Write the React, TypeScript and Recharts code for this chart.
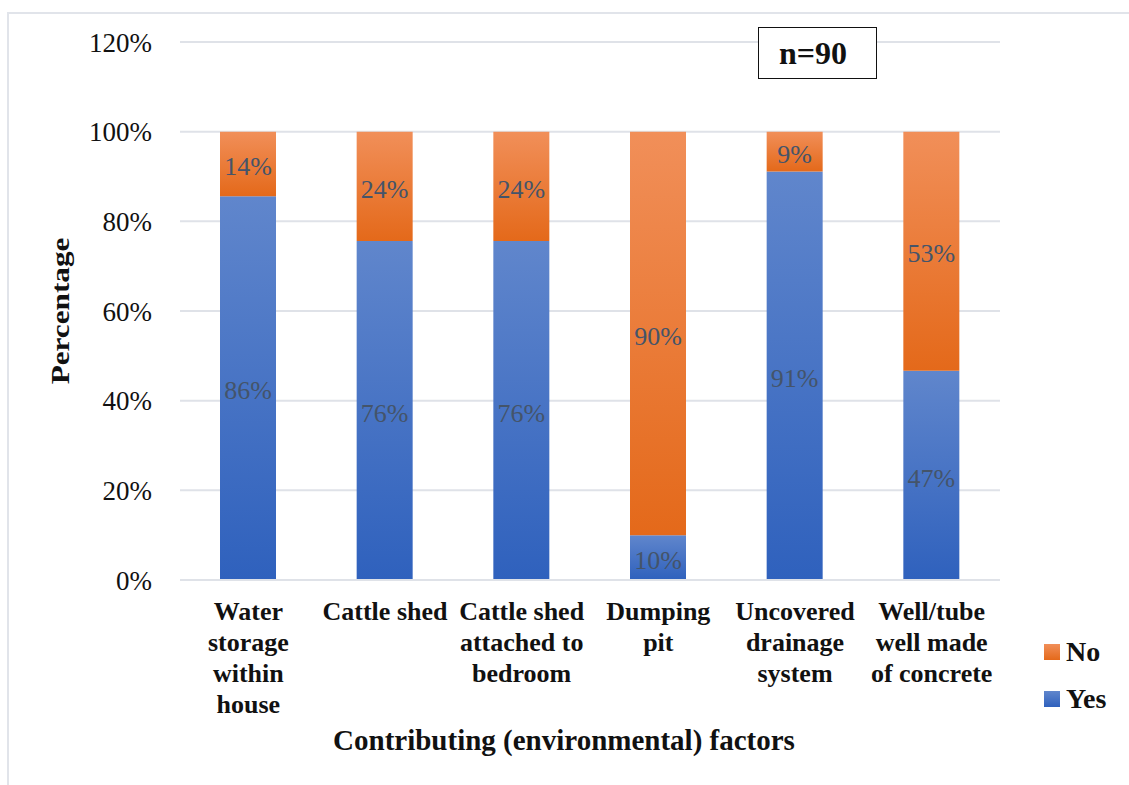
import { BarChart, Bar, XAxis, YAxis, CartesianGrid, LabelList } from 'recharts'

const categories = [
  'Water\nstorage\nwithin\nhouse',
  'Cattle shed',
  'Cattle shed\nattached to\nbedroom',
  'Dumping\npit',
  'Uncovered\ndrainage\nsystem',
  'Well/tube\nwell made\nof concrete',
]
// percentages of n=90 (bar heights), labels shown rounded
const yesValues = [85.6, 75.6, 75.6, 10, 91.1, 46.7]
const noValues = [14.4, 24.4, 24.4, 90, 8.9, 53.3]
const yTicks = [0, 20, 40, 60, 80, 100, 120]

const FONT = '"Liberation Serif", "Times New Roman", serif'

const chartData = categories.map((c, i) => ({
  name: c,
  yes: yesValues[i],
  no: noValues[i],
}))

const CategoryTick = ({ x, y, payload }: any) => {
  const lines = String(payload.value).split('\n')
  return (
    <text x={x} y={y} textAnchor="middle" fontFamily={FONT} fontWeight={700} fontSize={26} fill="#111">
      {lines.map((l, i) => (
        <tspan key={i} x={x} dy={i === 0 ? 32 : 31}>{l}</tspan>
      ))}
    </text>
  )
}

const pct = (v: any) => `${Math.round(Number(v))}%`

export default function App() {
  return (
    <div style={{ position: 'fixed', left: 0, top: 0, width: 1129, height: 785, overflow: 'hidden', background: 'white', fontFamily: FONT }}>
      <div style={{ position: 'absolute', left: 7, top: 12, width: 1200, height: 900, borderTop: '2px solid #e1e4ea', borderLeft: '2px solid #e1e4ea' }} />
      <BarChart
        width={1129}
        height={785}
        data={chartData}
        margin={{ top: 42, right: 129, left: 80, bottom: 0 }}
        barSize={56}
        style={{ position: 'absolute', left: 0, top: 0 }}
      >
        <defs>
          <linearGradient id="gradYes" x1="0" y1="0" x2="0" y2="1">
            <stop offset="0%" stopColor="#6086cc" />
            <stop offset="100%" stopColor="#2f61bd" />
          </linearGradient>
          <linearGradient id="gradNo" x1="0" y1="0" x2="0" y2="1">
            <stop offset="0%" stopColor="#f18f59" />
            <stop offset="100%" stopColor="#e4691a" />
          </linearGradient>
        </defs>
        <CartesianGrid vertical={false} stroke="#dfe2e8" strokeWidth={2} />
        <XAxis
          dataKey="name"
          height={205}
          axisLine={{ stroke: '#dfe2e8', strokeWidth: 2 }}
          tickLine={false}
          tick={<CategoryTick />}
          interval={0}
        />
        <YAxis
          width={100}
          domain={[0, 120]}
          ticks={yTicks}
          tickFormatter={(v) => `${v}%`}
          axisLine={false}
          tickLine={false}
          tickSize={0}
          tickMargin={28}
          tick={{ fontFamily: FONT, fontSize: 27, fill: '#111' }}
        />
        <Bar dataKey="yes" stackId="a" fill="url(#gradYes)" isAnimationActive={false}>
          <LabelList dataKey="yes" position="center" formatter={pct} fontFamily={FONT} fontSize={26} fill="#44546a" dy={2} />
        </Bar>
        <Bar dataKey="no" stackId="a" fill="url(#gradNo)" isAnimationActive={false}>
          <LabelList dataKey="no" position="center" formatter={pct} fontFamily={FONT} fontSize={26} fill="#44546a" dy={2} />
        </Bar>
      </BarChart>

      <div style={{ position: 'absolute', left: 61, top: 311, transform: 'translate(-50%, -50%) rotate(-90deg) scaleX(1.2)', fontWeight: 700, fontSize: 26, color: '#111', whiteSpace: 'nowrap' }}>
        Percentage
      </div>
      <div style={{ position: 'absolute', left: 564, top: 740, transform: 'translate(-50%, -50%)', fontWeight: 700, fontSize: 29, color: '#111', whiteSpace: 'nowrap' }}>
        Contributing (environmental) factors
      </div>

      <div style={{ position: 'absolute', left: 758, top: 27, width: 108, height: 50, border: '1.5px solid #111', background: 'white', display: 'flex', alignItems: 'center', justifyContent: 'center', paddingRight: 9, boxSizing: 'content-box', fontWeight: 700, fontSize: 32, color: '#111' }}>
        n=90
      </div>

      {[{ label: 'No', bg: 'linear-gradient(#f18f59, #e4691a)', top: 652 }, { label: 'Yes', bg: 'linear-gradient(#6086cc, #2f61bd)', top: 699 }].map((l) => (
        <div key={l.label} style={{ position: 'absolute', left: 1044, top: l.top, transform: 'translateY(-50%)', display: 'flex', alignItems: 'center', gap: 6 }}>
          <div style={{ width: 16, height: 16, background: l.bg }} />
          <span style={{ fontWeight: 700, fontSize: 28, color: '#111' }}>{l.label}</span>
        </div>
      ))}
    </div>
  )
}
